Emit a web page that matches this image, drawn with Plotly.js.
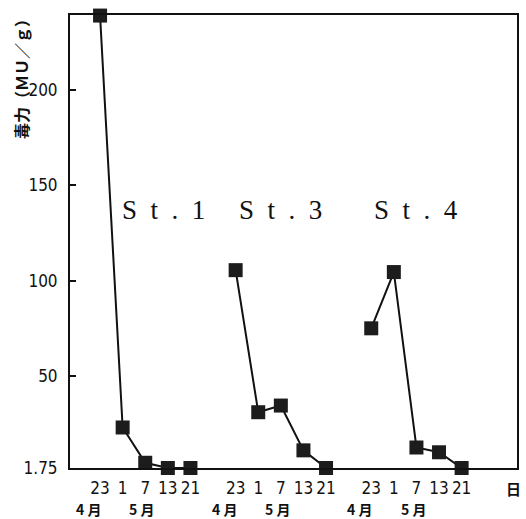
<!DOCTYPE html>
<html>
<head>
<meta charset="utf-8">
<script src="https://cdn.plot.ly/plotly-3.0.1.min.js"></script>
<style>html,body{margin:0;padding:0;background:#fff;}#chart{width:526px;height:519px;}</style>
</head>
<body>
<div id="chart"></div>
<script>
// ---- data ----
const stations = ['St.1', 'St.3', 'St.4'];
const dayLabels = ['23', '1', '7', '13', '21'];
const monthLabels = ['4 月', '5 月'];
const st1 = [239, 23, 4.5, 1.75, 1.75];
const st3 = [105.5, 31, 34.5, 11, 1.75];
const st4 = [75, 104.5, 12.5, 10, 1.75];
const yTickVals = [1.75, 50, 100, 150, 200];
const yTickText = ['1.75', '50', '100', '150', '200'];
const yTitle = '毒力（ＭＵ／ｇ）';
const unitLabel = '日';

// ---- layout helpers ----
const series = [st1, st3, st4];
const groupGap = 6;
const narrow = '"DejaVu Sans Condensed", "DejaVu Sans", sans-serif';
const serif = '"Liberation Serif", "DejaVu Serif", serif';
const cjk = '"Noto Sans CJK JP", sans-serif';

const traces = series.map((vals, g) => ({
  type: 'scatter', mode: 'lines+markers',
  x: vals.map((_, i) => g * groupGap + i),
  y: vals,
  line: {color: '#111', width: 2},
  marker: {symbol: 'square', size: 14, color: '#1c1c1c', line: {width: 0}},
  cliponaxis: false, showlegend: false, hoverinfo: 'skip'
}));

const tickvals = [], ticktext = [];
series.forEach((vals, g) => dayLabels.forEach((d, i) => { tickvals.push(g * groupGap + i); ticktext.push(d); }));

const annotations = [];
const monthOffsets = [-0.5, 1.85];
series.forEach((_, g) => {
  monthLabels.forEach((m, k) => annotations.push({
    x: g * groupGap + monthOffsets[k], xref: 'x', y: (468 - 509) / 453, yref: 'paper',
    text: m, showarrow: false, xanchor: 'center', yanchor: 'middle',
    font: {family: cjk, size: 14, color: '#111', weight: 'bold'}
  }));
});

const stOffsets = [0.9, 0.05, 0.05];
stations.forEach((s, g) => annotations.push({
  x: g * groupGap + stOffsets[g], xref: 'x', y: 137, yref: 'y',
  text: s.split('').join('\u2002'), showarrow: false, xanchor: 'left', yanchor: 'middle',
  font: {family: serif, size: 27, color: '#111'}
}));

annotations.push({
  x: (21 - 70) / 447, xref: 'paper', y: (468 - 75) / 453, yref: 'paper',
  text: yTitle, textangle: -90, showarrow: false, xanchor: 'center', yanchor: 'middle',
  font: {family: cjk, size: 16, color: '#111', weight: 'bold'}
});
annotations.push({
  x: (513 - 70) / 447, xref: 'paper', y: (468 - 488) / 453, yref: 'paper',
  text: unitLabel, showarrow: false, xanchor: 'center', yanchor: 'middle',
  font: {family: cjk, size: 15, color: '#111', weight: 'bold'}
});

const tickFont = {family: narrow, size: 17, color: '#111', stretch: 'condensed'};
const layout = {
  width: 526, height: 519,
  margin: {l: 70, r: 9, t: 15, b: 51, pad: 0},
  paper_bgcolor: '#fff', plot_bgcolor: '#fff',
  xaxis: {
    range: [-1.33, 18.45], tickmode: 'array', tickvals, ticktext, tickangle: 0,
    ticks: '', showgrid: false, zeroline: false,
    showline: true, linecolor: '#111', linewidth: 2, mirror: true,
    tickfont: tickFont, ticklabelstandoff: 4
  },
  yaxis: {
    range: [1.75, 239.3], tickmode: 'array', tickvals: yTickVals, ticktext: yTickText,
    ticks: 'inside', ticklen: 6, tickwidth: 2, tickcolor: '#111',
    showgrid: false, zeroline: false,
    showline: true, linecolor: '#111', linewidth: 2, mirror: true,
    tickfont: tickFont, ticklabelstandoff: 7
  },
  annotations,
  font: {family: narrow, color: '#111'}
};

Plotly.newPlot('chart', traces, layout, {staticPlot: true, displayModeBar: false});
</script>
</body>
</html>
